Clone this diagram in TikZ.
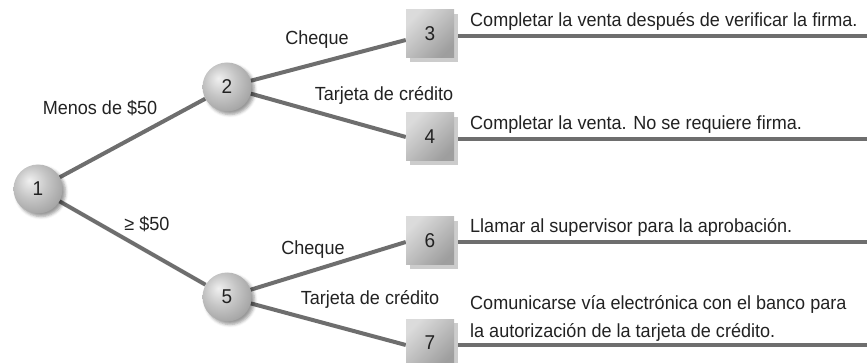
\documentclass[tikz,border=0pt]{standalone}
\usepackage{fontspec}
\setmainfont{Liberation Sans}[FakeStretch=0.95]
\usetikzlibrary{shadows.blur,shadows,calc,backgrounds}
\pgfdeclareradialshading{greyball}{\pgfpoint{-9bp}{9bp}}{color(0bp)=(gray!12); color(16bp)=(gray!45); color(36bp)=(gray!80); color(60bp)=(gray!90)}
\definecolor{linegray}{HTML}{6E6E6E}
\definecolor{txt}{HTML}{222222}
\begin{document}
\begin{tikzpicture}[x=1pt,y=-1pt, font=\fontsize{19}{22}\selectfont, text=txt,
  ball/.style={circle, minimum size=49pt, inner sep=0pt, shading=greyball, font=\fontsize{20}{22}\selectfont,
    blur shadow={shadow xshift=3pt, shadow yshift=-3pt, shadow opacity=40, shadow blur radius=3pt}},
  box/.style={rectangle, minimum size=48pt, inner sep=0pt, top color=gray!28, bottom color=gray!76, shading angle=45,
    font=\fontsize{20}{22}\selectfont,
    drop shadow={shadow xshift=4pt, shadow yshift=-4pt, fill=gray!40, opacity=1}},
  conn/.style={draw=linegray, line width=4pt},
  hline/.style={draw=linegray, line width=3.5pt},
  lab/.style={inner sep=0pt},
  desc/.style={inner sep=0pt, anchor=base west}]
\useasboundingbox (0,0) rectangle (867,363);
\coordinate (rb) at (867,0);
% nodes
\node[ball] (n1) at (38,189) {1};
\node[ball] (n2) at (227,87) {2};
\node[ball] (n5) at (227,297) {5};
\node[box] (s3) at (430,34) {3};
\node[box] (s4) at (430,137) {4};
\node[box] (s6) at (430,241) {6};
\node[box] (s7) at (430,343) {7};
% line anchors
\coordinate (e3) at ($(s3.east)+(4,2)$);
\coordinate (e4) at ($(s4.east)+(4,2)$);
\coordinate (e6) at ($(s6.east)+(4,1)$);
\coordinate (e7) at ($(s7.east)+(4,2)$);
\coordinate (w3) at ($(s3.west)+(0,6)$);
\coordinate (w4) at ($(s4.west)+(0,0)$);
\coordinate (w6) at ($(s6.west)+(0,1)$);
\coordinate (w7) at ($(s7.west)+(0,2)$);
% connectors
\begin{scope}[on background layer]
\draw[conn] (n1) -- (n2);
\draw[conn] (n1) -- (n5);
\draw[conn] (n2) -- (w3);
\draw[conn] (n2) -- (w4);
\draw[conn] (n5) -- (w6);
\draw[conn] (n5) -- (w7);
\end{scope}
\draw[hline] (e3) -- (e3 -| rb);
\draw[hline] (e4) -- (e4 -| rb);
\draw[hline] (e6) -- (e6 -| rb);
\draw[hline] (e7) -- (e7 -| rb);
% branch labels
\node[lab] (l12) at (100,108) {Menos de \$50};
\node[lab] (l15) at (147,224) {≥ \$50};
\node[lab] (l23) at (317,40) {Cheque};
\node[lab] (l24) at (384,95) {Tarjeta de crédito};
\node[lab] (l56) at (313,250) {Cheque};
\node[lab] (l57) at (370,299) {Tarjeta de crédito};
% descriptions
\node[desc] (t3) at (470,27) {Completar la venta después de verificar la firma.};
\node[desc] (t4) at (470,130) {Completar la venta. No se requiere firma.};
\node[desc] (t6) at (470,233) {Llamar al supervisor para la aprobación.};
\node[desc] (t7a) at (470,309) {Comunicarse vía electrónica con el banco para};
\node[desc] (t7b) at (470,337) {la autorización de la tarjeta de crédito.};
\end{tikzpicture}
\end{document}
